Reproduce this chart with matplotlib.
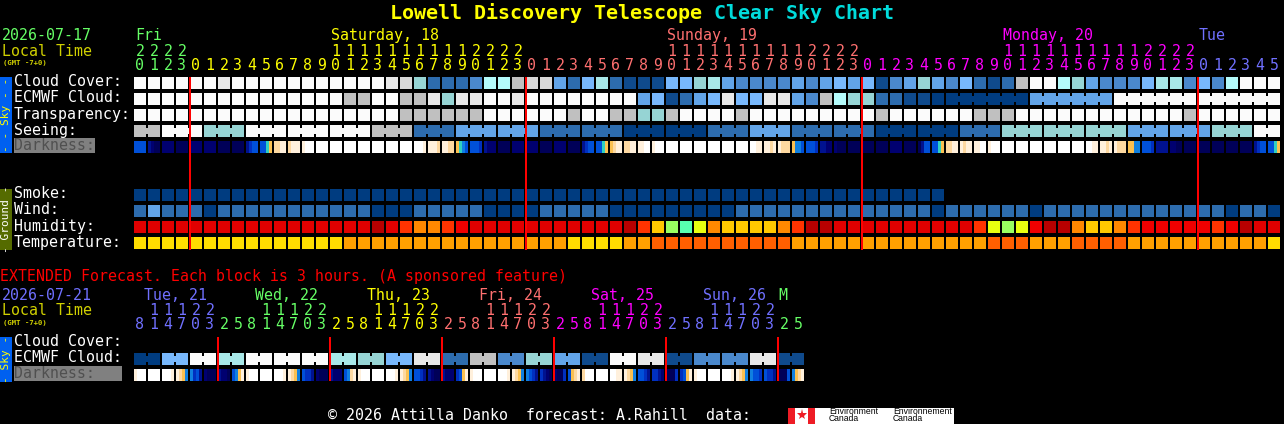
import numpy as np
import matplotlib
matplotlib.use('Agg')
import matplotlib.pyplot as plt

# block colours
sky_colors = {'w': '#fbfbfb', 'e': '#e8e8e8', 'd': '#d8d8d8', 'g': '#c0c0c0', 'c': '#b4fbfb',
              'a': '#a8e8e8', 't': '#96d4d4', 'l': '#78b8fc', 'm': '#62a4e8', 'n': '#4a88cc',
              'o': '#2d6cae', 'p': '#0f4a8c', 'q': '#003c80'}
ground_colors = {'r': '#e00000', 'e': '#f00000', 'R': '#b80000', 'x': '#ff3300', 'f': '#ff8800',
                 'y': '#ffc800', 'u': '#e8ff10', 'v': '#98ff60', 's': '#58ffb0',
                 'Y': '#ffdd00', 'A': '#ffa000', 'O': '#ff5f00', 'q': '#003c80', 'o': '#2d6cae', 'm': '#62a4e8'}
dark_colors = {'0': '#000058', '1': '#000070', '2': '#00128f', '3': '#0030c0', '4': '#0050d8',
               '5': '#1080e0', '6': '#30d0c0', '7': '#fac050', '8': '#fdd8a0', '9': '#fff0dc', 'a': '#ffffff'}

# main forecast, one code per hour
cloud_cover = list('wwwwwwewww' 'wwwwwwwwed' 'tooonccgdd' 'molaopppll' 'tamnnnnmnm'
                   'lmlpnmtmnl' 'opogwwctmn' 'nnlaanlncwww')
ecmwf_cloud = list('wwwwwwwwww' 'wwwwwggwwg' 'geteewwewww' 'wwwwwmlpo' 'mlelleemng'
                   'cttooppqqq' 'qqqqmmmmmm' 'wwwwwwwwwwww')
transparency = list('wwwwwwwwww' 'wwwwwwwwwg' 'gggggwwwww' 'wgwwggttgw' 'wwwgwwwwww'
                    'wwwgwwwwww' 'gggwwwwwww' 'wwwwwgwwwwww')
seeing = list('ggwwwtttww' 'wwwwwwwggg' 'ooommmmmmo' 'oooooqqqqq' 'qooommmooo'
              'oooqqqqqqo' 'ootttttttt' 'tmmmmmmtttww')
darkness = ['4444', '2100', '1111', '0000', '1111', '1111', '0000', '0000', '2344', '4467',
            '8899', '8999', '9aaa', 'aaaa', 'aaaa', 'aaaa', 'aaaa', 'aaaa', 'aaaa', 'aaaa',
            'aaa9', '9998', '9988', '7654', '4443', '2111', '0000', '1111', '1111', '0000',
            '1111', '0000', '2344', '4467', '7899', '8899', '99aa', '9aaa', 'aaaa', 'aaaa',
            'aaaa', 'aaaa', 'aaaa', 'aaaa', 'aa99', '9989', '9888', '7554', '4443', '2211',
            '1000', '0000', '0000', '0000', '1111', '0000', '0244', '4467', '8899', '9899',
            '99aa', '9aaa', 'aaaa', 'aaaa', 'aaaa', 'aaaa', 'aaaa', 'aaaa', 'aa99', '9989',
            '9888', '7755', '4443', '2222', '1100', '0000', '0000', '0000', '0000', '0000',
            '2344', '4467']
smoke = list('qqqqqqqqqq' 'qqqqqqqqqq' 'qqqqqqqqqq' 'qqqqqqqqqq' 'qqqqqqqqqq' 'qqqqqqqq')
wind = list('omoooqoooo' 'oooooooqqq' 'oooooqqqqo' 'ooooqqqqqq' 'qqqooooooo'
            'oooooooqoo' 'ooooqooooo' 'ooooooooqooq')
humidity = list('rrrrrrrrrr' 'rrrrrrrRrx' 'ffxerrrrrr' 'rrrrrRxyvs' 'ufyyyyfxRR'
                'rrrrrrrrrr' 'xuvueRRfyy' 'fxeeeeexeRrr')
temperature = list('YYYYYYYYYY' 'YYYYYAAAAA' 'AAAAAAAAAA' 'AYYYYAAOOO' 'OOOOOOOAAA'
                   'AAAAAAAAAA' 'AOOOAAAOOO' 'OAAAAAAAAAAY')

# extended forecast, ecmwf per 6 hour pair, darkness per column
ext_ecmwf = list('qlwawwwatleogntmpwepnnep')
ext_darkness = ['9aaa', 'aaaa', 'aaa9', '9875', '5342', '1000', '2110', '4579',
                '9aaa', 'aaaa', 'aaa9', '9875', '4332', '1000', '2111', '4589',
                '9aaa', 'aaaa', 'aaa9', '9875', '4432', '2100', '2111', '3479',
                '9aaa', 'aaaa', 'aaa9', '9875', '5432', '3210', '1003', '4789',
                '8aaa', 'aaaa', 'aa99', '9875', '4432', '3321', '0003', '3479',
                '9aaa', 'aaaa', 'aaa9', '9875', '5443', '4332', '0004', '5789']

# headers
GREEN = '#66ff66'
YELLOW = '#ffff00'
SALMON = '#ff7070'
MAGENTA = '#ff00ff'
PERI = '#7070ff'
OLIVE_TXT = '#d0d000'
main_days = [('Fri', GREEN, 0), ('Saturday, 18', YELLOW, 14), ('Sunday, 19', SALMON, 38),
             ('Monday, 20', MAGENTA, 62), ('Tue', PERI, 76)]
main_hours = [20, 21, 22, 23] + list(range(24)) * 3 + [0, 1, 2, 3, 4, 5]
main_hour_colors = [GREEN] * 4 + [YELLOW] * 24 + [SALMON] * 24 + [MAGENTA] * 24 + [PERI] * 6
ext_days = [('Tue, 21', PERI, 144), ('Wed, 22', GREEN, 255), ('Thu, 23', YELLOW, 367),
            ('Fri, 24', SALMON, 479), ('Sat, 25', MAGENTA, 591), ('Sun, 26', PERI, 703), ('M', GREEN, 778)]
ext_hours = [8, 11, 14, 17, 20, 23] + [2, 5, 8, 11, 14, 17, 20, 23] * 5 + [2, 5]
ext_hour_colors = [PERI] * 6 + [GREEN] * 8 + [YELLOW] * 8 + [SALMON] * 8 + [MAGENTA] * 8 + [PERI] * 8 + [GREEN] * 2
main_labels = ['Cloud Cover:', 'ECMWF Cloud:', 'Transparency:', 'Seeing:']
ground_labels = ['Smoke:', 'Wind:', 'Humidity:', 'Temperature:']

# layout
X0 = 134
PITCH = 14
BLOCK = 12

plt.rcParams['font.family'] = 'DejaVu Sans Mono'
fig = plt.figure(figsize=(12.84, 4.24), dpi=100, facecolor='black')
ax = fig.add_axes([0, 0, 1, 1])
ax.set_xlim(0, 1284)
ax.set_ylim(424, 0)
ax.axis('off')


def txt(x, y, s, color='white', size=10.75, **kw):
    # y is the baseline of the text unless va says otherwise
    kw.setdefault('ha', 'left')
    kw.setdefault('va', 'baseline')
    ax.text(x, y, s, color=color, fontsize=size, **kw)


def box(x, y, w, h, color, z=2):
    ax.bar(x, h, width=w, bottom=y, align='edge', color=color, linewidth=0, zorder=z)


def draw_row(codes, y, palette, links=()):
    xs = X0 + PITCH * np.arange(len(codes))
    ax.bar(xs, BLOCK, width=BLOCK, bottom=y, align='edge', color=[palette[c] for c in codes],
           linewidth=0)
    # merged blocks get a short joint between them
    for i in links:
        box(xs[i] + BLOCK, y + 3, PITCH - BLOCK, 6, palette[codes[i]])


def draw_dark(blocks, y):
    for i, b in enumerate(blocks):
        for j, c in enumerate(b):
            box(X0 + PITCH * i + 3 * j, y, 3, BLOCK, dark_colors[c])


# title
txt(390, 19, 'Lowell Discovery Telescope', YELLOW, 14.4, fontweight='bold')
txt(714, 19, 'Clear Sky Chart', '#00dcdc', 14.4, fontweight='bold')

# main header
txt(2, 40, '2026-07-17', GREEN)
txt(2, 55.5, 'Local Time', OLIVE_TXT)
txt(3, 64.5, '(GMT -7+0)', OLIVE_TXT, 5.2, fontweight='bold')
for name, color, col in main_days:
    txt(X0 + PITCH * col + 1, 40, name, color)
for i, (h, color) in enumerate(zip(main_hours, main_hour_colors)):
    cx = X0 + PITCH * i + 6
    if h >= 10:
        txt(cx, 55.5, str(h // 10), color, ha='center')
    txt(cx, 69.5, str(h % 10), color, ha='center')

# sky rows
sky_y = [77, 93, 109, 125]
seeing_links = [i for i in range(len(seeing) - 1) if (i + 1) % 3 != 2]
ecmwf_links = [i for i in range(58, len(ecmwf_cloud) - 1) if (i - 57) % 6 != 0]
draw_row(cloud_cover, sky_y[0], sky_colors)
draw_row(ecmwf_cloud, sky_y[1], sky_colors, ecmwf_links)
draw_row(transparency, sky_y[2], sky_colors)
draw_row(seeing, sky_y[3], sky_colors, seeing_links)
draw_dark(darkness, 141)
for label, y in zip(main_labels, sky_y):
    txt(14, y + 9.5, label)
box(14, 138, 81, 15, '#808080')
txt(14, 150.5, 'Darkness:', '#505050', zorder=3)
box(0, 77, 12, 76, '#0060f0')
txt(6, 115, '- - Sky - -', YELLOW, 8, rotation=90, ha='center', va='center', zorder=3)

# ground rows
ground_y = [189, 205, 221, 237]
draw_row(smoke, ground_y[0], ground_colors)
draw_row(wind, ground_y[1], ground_colors)
draw_row(humidity, ground_y[2], ground_colors)
draw_row(temperature, ground_y[3], ground_colors)
for label, y in zip(ground_labels, ground_y):
    txt(14, y + 9.5, label)
box(0, 189, 12, 61, '#556b00')
txt(6, 219, '- Ground -', 'white', 8, rotation=90, ha='center', va='center', zorder=3)

# day boundary lines
for col in [4, 28, 52, 76]:
    box(X0 + PITCH * col - 1, 77, 2, 173, '#ff0000', z=4)

# extended forecast
txt(0, 281, 'EXTENDED Forecast. Each block is 3 hours. (A sponsored feature)', '#ff0000')
txt(2, 300, '2026-07-21', PERI)
txt(2, 315, 'Local Time', OLIVE_TXT)
txt(3, 324.5, '(GMT -7+0)', OLIVE_TXT, 5.2, fontweight='bold')
for name, color, x in ext_days:
    txt(x, 300, name, color)
for i, (h, color) in enumerate(zip(ext_hours, ext_hour_colors)):
    cx = X0 + PITCH * i + 6
    if h >= 10:
        txt(cx, 315, str(h // 10), color, ha='center')
    txt(cx, 329, str(h % 10), color, ha='center')
txt(14, 346.5, 'Cloud Cover:')
txt(14, 362.5, 'ECMWF Cloud:')
box(14, 366, 108, 15, '#808080')
txt(14, 378.5, 'Darkness:', '#505050', zorder=3)
draw_row(np.repeat(ext_ecmwf, 2).tolist(), 353, sky_colors, range(0, 48, 2))
draw_dark(ext_darkness, 369)
box(0, 337, 12, 45, '#0060f0')
txt(6, 359, '- Sky -', YELLOW, 8, rotation=90, ha='center', va='center', zorder=3)
for col in range(6, 48, 8):
    box(X0 + PITCH * col - 1, 337, 2, 44, '#ff0000', z=4)

# footer
txt(328, 420, '\u00a9 2026 Attilla Danko  forecast: A.Rahill  data:', 'white')
box(788, 408, 166, 16, 'white')
box(788, 408, 7, 16, '#ee1c25', z=3)
box(808, 408, 7, 16, '#ee1c25', z=3)
ax.plot([801.5], [415], marker='*', color='#ee1c25', markersize=8, markeredgewidth=0, zorder=3)
for x, word in [(829, 'Environment'), (893, 'Environnement')]:
    txt(x, 414, word, 'black', 6.2, zorder=3, family='Liberation Sans')
    txt(x, 421, 'Canada', 'black', 6.2, zorder=3, family='Liberation Sans')

plt.savefig('out.png', dpi=100, facecolor='black')
